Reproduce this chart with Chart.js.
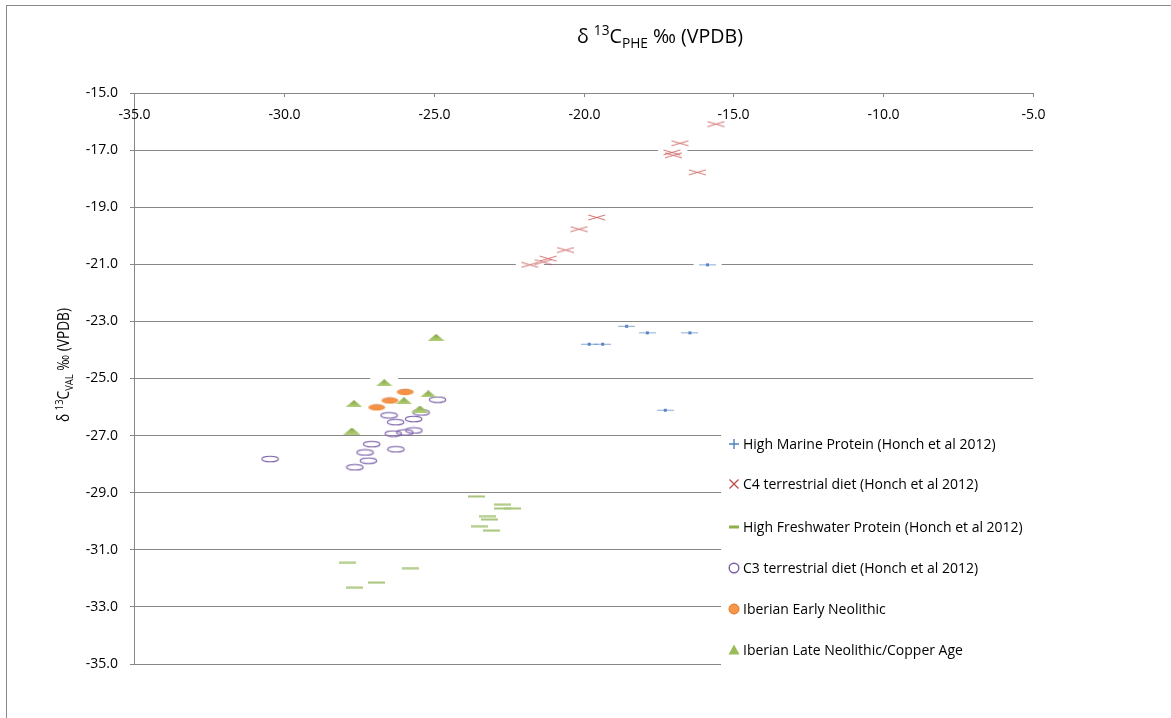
<!DOCTYPE html>
<html><head><meta charset="utf-8">
<script src="https://cdn.jsdelivr.net/npm/chart.js@4.4.1/dist/chart.umd.min.js"></script>
<style>html,body{margin:0;padding:0;background:#fff;}#wrap{position:relative;width:1171px;height:718px;}</style>
</head><body><div id="wrap"><canvas id="c" width="1171" height="718"></canvas></div>
<script>
// ---- data ----
const xTicks = [-35, -30, -25, -20, -15, -10, -5];
const yTicks = [-15, -17, -19, -21, -23, -25, -27, -29, -31, -33, -35];
const seriesNames = [
  'High Marine Protein (Honch et al 2012)',
  'C4 terrestrial diet (Honch et al 2012)',
  'High Freshwater Protein (Honch et al 2012)',
  'C3 terrestrial diet (Honch et al 2012)',
  'Iberian Early Neolithic',
  'Iberian Late Neolithic/Copper Age'
];
const marineX = [-15.86, -18.56, -17.87, -16.45, -19.81, -19.36, -17.27];
const marineY = [-21.02, -23.17, -23.40, -23.40, -23.80, -23.80, -26.11];
const c4X = [-15.58, -16.78, -17.05, -17.00, -16.20, -19.56, -20.15, -20.60, -21.18, -21.35, -21.79];
const c4Y = [-16.09, -16.76, -17.08, -17.18, -17.78, -19.36, -19.77, -20.50, -20.80, -20.92, -21.02];
const freshX = [-23.57, -22.70, -22.70, -22.38, -23.20, -23.14, -23.46, -23.08, -27.88, -25.78, -26.90, -27.63];
const freshY = [-29.13, -29.42, -29.55, -29.55, -29.82, -29.94, -30.17, -30.33, -31.46, -31.64, -32.15, -32.33];
const c3X = [-24.87, -25.42, -26.49, -25.67, -26.27, -25.66, -26.35, -25.96, -27.07, -26.26, -27.29, -27.18, -27.63, -30.46];
const c3Y = [-25.74, -26.19, -26.29, -26.42, -26.53, -26.82, -26.93, -26.89, -27.30, -27.48, -27.59, -27.88, -28.11, -27.82];
const earlyX = [-25.95, -26.46, -26.90];
const earlyY = [-25.47, -25.77, -26.01];
const lateX = [-24.92, -26.65, -25.18, -25.99, -27.66, -25.46, -27.73];
const lateY = [-23.56, -25.15, -25.54, -25.78, -25.88, -26.07, -26.84];

// ---- marker images (plot markers look horizontally stretched) ----
function mk(w, h, draw) {
  const cv = document.createElement('canvas');
  cv.width = w; cv.height = h;
  draw(cv.getContext('2d'), w, h);
  return cv;
}
const imgMarine = mk(17, 5, (g, w, h) => {
  g.strokeStyle = 'rgba(100,140,200,0.75)'; g.lineWidth = 1;
  g.beginPath(); g.moveTo(0, 2.5); g.lineTo(w, 2.5); g.stroke();
  g.fillStyle = '#5a84c4'; g.fillRect(7, 1, 3, 3);
});
const imgC4 = mk(19, 7, (g, w, h) => {
  g.strokeStyle = 'rgba(200,80,80,0.8)'; g.lineWidth = 1;
  g.beginPath(); g.moveTo(1, 1); g.lineTo(w - 1, h - 1); g.moveTo(1, h - 1); g.lineTo(w - 1, 1); g.stroke();
});
const imgFresh = mk(17, 3, (g, w, h) => {
  g.fillStyle = '#a8c57a'; g.fillRect(0, 0.5, w, 2);
});
const imgC3 = mk(19, 8, (g, w, h) => {
  g.strokeStyle = '#7a5ea8'; g.lineWidth = 1.1;
  g.beginPath(); g.ellipse(w / 2, h / 2, 8.3, 2.8, 0, 0, Math.PI * 2); g.stroke();
});
const imgEarly = mk(19, 8, (g, w, h) => {
  const gr = g.createLinearGradient(0, 0, 0, h);
  gr.addColorStop(0, '#d08a58'); gr.addColorStop(0.4, '#f7954a'); gr.addColorStop(1, '#f08a3a');
  g.fillStyle = gr;
  g.beginPath(); g.ellipse(w / 2, h / 2, 8.5, 3.2, 0, 0, Math.PI * 2); g.fill();
});
const imgLate = mk(17, 7, (g, w, h) => {
  const gr = g.createLinearGradient(0, 0, 0, h);
  gr.addColorStop(0, '#7f9a4a'); gr.addColorStop(0.5, '#9bbb59'); gr.addColorStop(1, '#b3cf7e');
  g.fillStyle = gr;
  g.beginPath(); g.moveTo(w / 2, 0); g.lineTo(w, h); g.lineTo(0, h); g.closePath(); g.fill();
});

function pts(xs, ys) { return xs.map((x, i) => ({ x: x, y: ys[i] })); }

// box extents [up, down] that hide the grid under each marker, as in the reference
const boxes = [[4, 2], [6, 2], [3, 2], [3, 1.5], [4, 2], [7, 1.5]];

const FONT = "'Open Sans', 'Liberation Sans', sans-serif";
const GRID = '#878787';

const bgPlugin = {
  id: 'bg',
  beforeDraw(chart) {
    const g = chart.ctx;
    g.save();
    g.fillStyle = '#fff'; g.fillRect(0, 0, chart.width, chart.height);
    g.strokeStyle = '#8a8a8a'; g.lineWidth = 1;
    g.strokeRect(6.5, 5.5, chart.width + 10, chart.height + 10);
    g.restore();
  },
  beforeDatasetsDraw(chart) {
    const g = chart.ctx;
    g.save(); g.fillStyle = '#fff';
    chart.data.datasets.forEach((ds, i) => {
      const meta = chart.getDatasetMeta(i);
      const b = boxes[i];
      meta.data.forEach(el => { g.fillRect(el.x - 14, el.y - b[0], 28, b[0] + b[1]); });
    });
    g.restore();
  },
  afterDraw(chart) {
    const g = chart.ctx;
    const xs = chart.scales.x, area = chart.chartArea;
    g.save();
    // x ticks (inward) and labels below the top axis
    g.strokeStyle = GRID; g.lineWidth = 1;
    g.fillStyle = '#000'; g.font = '14px ' + FONT; g.textAlign = 'center'; g.textBaseline = 'middle';
    xTicks.forEach(v => {
      const px = Math.round(xs.getPixelForValue(v)) + 0.5;
      g.beginPath(); g.moveTo(px, area.top); g.lineTo(px, area.top + 4); g.stroke();
      g.fillText(v.toFixed(1), px, area.top + 22);
    });
    // titles
    drawRich(g, [['δ ', 0], ['13', 1], ['C', 0], ['PHE', -1], [' ‰ (VPDB)', 0]], 20, 660, 36, 0, 166);
    drawRich(g, [['δ ', 0], ['13', 1], ['C', 0], ['VAL', -1], [' ‰ (VPDB)', 0]], 16, 63.5, 365, -Math.PI / 2, 114);
    // legend
    g.fillStyle = '#fff';
    g.fillRect(721, 424, 330, 250);
    const ly = [444, 484, 527, 568, 609, 650];
    seriesNames.forEach((name, i) => {
      const cx = 734, cy = ly[i];
      legendMarker(g, i, cx, cy);
      g.fillStyle = '#000'; g.font = '14px ' + FONT; g.textAlign = 'left'; g.textBaseline = 'middle';
      g.fillText(name, 743, cy + 1);
    });
    g.restore();
  }
};

// draws a title with superscript/subscript parts, fitted to the reference's text length
function drawRich(g, parts, size, cx, cy, rot, target) {
  const small = Math.round(size * 0.7);
  let total = 0;
  parts.forEach(p => { g.font = (p[1] ? small : size) + 'px ' + FONT; total += g.measureText(p[0]).width; });
  const k = target / total;
  g.save();
  g.translate(cx, cy); g.rotate(rot); g.scale(k, 1);
  g.textAlign = 'left'; g.textBaseline = 'alphabetic'; g.fillStyle = '#000';
  let x = -total / 2;
  const base = size * 0.35;
  parts.forEach(p => {
    g.font = (p[1] ? small : size) + 'px ' + FONT;
    const dy = p[1] === 1 ? -size * 0.38 : p[1] === -1 ? size * 0.25 : 0;
    g.fillText(p[0], x, base + dy);
    x += g.measureText(p[0]).width;
  });
  g.restore();
}

function legendMarker(g, i, x, y) {
  g.save();
  g.lineWidth = 1.4;
  if (i === 0) {
    g.strokeStyle = '#4f81bd';
    g.beginPath(); g.moveTo(x - 5, y); g.lineTo(x + 5, y); g.moveTo(x, y - 5); g.lineTo(x, y + 5); g.stroke();
  } else if (i === 1) {
    g.strokeStyle = '#c0504d';
    g.beginPath(); g.moveTo(x - 4.5, y - 4.5); g.lineTo(x + 4.5, y + 4.5); g.moveTo(x - 4.5, y + 4.5); g.lineTo(x + 4.5, y - 4.5); g.stroke();
  } else if (i === 2) {
    g.fillStyle = '#8eb04a'; g.fillRect(x - 5, y - 1.5, 10, 3);
  } else if (i === 3) {
    g.strokeStyle = '#7a5ea8';
    g.beginPath(); g.arc(x, y, 4.8, 0, Math.PI * 2); g.stroke();
  } else if (i === 4) {
    g.fillStyle = '#f79646'; g.strokeStyle = '#e07a2a'; g.lineWidth = 1;
    g.beginPath(); g.arc(x, y, 5, 0, Math.PI * 2); g.fill(); g.stroke();
  } else {
    g.fillStyle = '#9bbb59';
    g.beginPath(); g.moveTo(x, y - 5.5); g.lineTo(x + 5.5, y + 4.5); g.lineTo(x - 5.5, y + 4.5); g.closePath(); g.fill();
  }
  g.restore();
}

const imgs = [imgMarine, imgC4, imgFresh, imgC3, imgEarly, imgLate];
const xsAll = [marineX, c4X, freshX, c3X, earlyX, lateX];
const ysAll = [marineY, c4Y, freshY, c3Y, earlyY, lateY];

new Chart(document.getElementById('c'), {
  type: 'scatter',
  data: {
    datasets: seriesNames.map((n, i) => ({
      label: n,
      data: pts(xsAll[i], ysAll[i]),
      pointStyle: imgs[i],
      pointRadius: 8,
      order: 6 - i
    }))
  },
  options: {
    responsive: false,
    animation: false,
    devicePixelRatio: 1,
    layout: { padding: { left: 0, right: 138, top: 93, bottom: 54 } },
    plugins: { legend: { display: false }, tooltip: { enabled: false } },
    scales: {
      x: { type: 'linear', min: -35, max: -5, display: false },
      y: {
        type: 'linear', min: -35, max: -15, position: 'left',
        afterFit(s) { s.width = 134; },
        afterBuildTicks(s) { s.ticks = yTicks.map(v => ({ value: v })); },
        ticks: { color: '#000', font: { family: FONT, size: 14 }, padding: 12, callback: v => v.toFixed(1) },
        grid: { color: GRID, lineWidth: 1, tickLength: 4, drawTicks: true },
        border: { display: true, color: GRID, width: 1 }
      }
    }
  },
  plugins: [bgPlugin]
});
</script>
</body></html>
